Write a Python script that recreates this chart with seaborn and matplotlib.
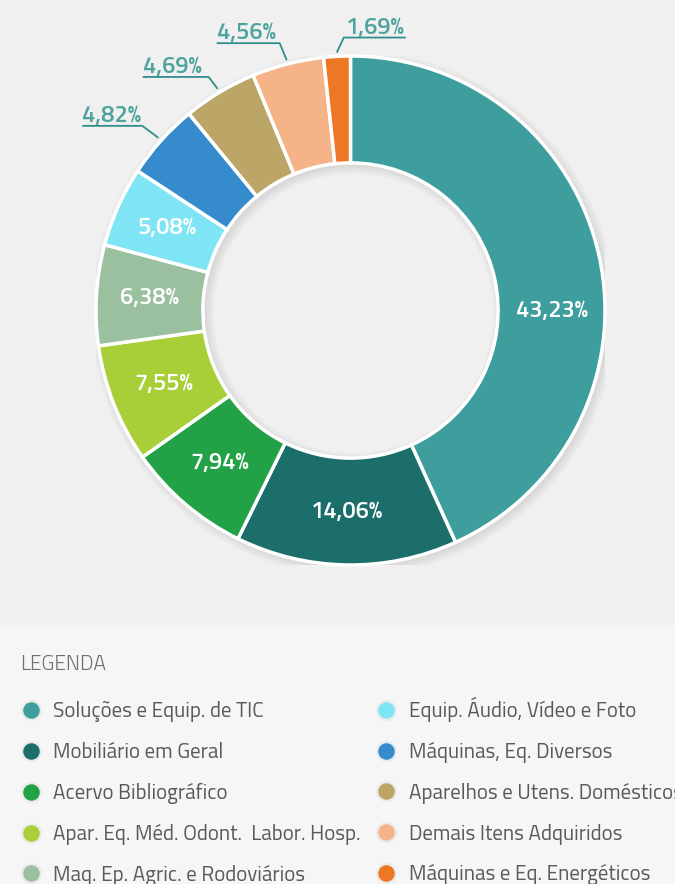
import matplotlib
matplotlib.use('Agg')
import matplotlib.pyplot as plt
import seaborn as sns
import numpy as np
from matplotlib.patches import Rectangle, Wedge
from matplotlib.lines import Line2D

categories = [
    "Soluções e Equip. de TIC",
    "Mobiliário em Geral",
    "Acervo Bibliográfico",
    "Apar. Eq. Méd. Odont.  Labor. Hosp.",
    "Maq. Ep. Agric. e Rodoviários",
    "Equip. Áudio, Vídeo e Foto",
    "Máquinas, Eq. Diversos",
    "Aparelhos e Utens. Domésticos",
    "Demais Itens Adquiridos",
    "Máquinas e Eq. Energéticos",
]
values = [43.23, 14.06, 7.94, 7.55, 6.38, 5.08, 4.82, 4.69, 4.56, 1.69]
value_labels = ["43,23%", "14,06%", "7,94%", "7,55%", "6,38%", "5,08%",
                "4,82%", "4,69%", "4,56%", "1,69%"]
colors = ["#3d9e9d", "#1c6e6a", "#22a146", "#a8cf38", "#9ac09f",
          "#7fe5f5", "#358bcc", "#bba668", "#f5b488", "#ee7725"]

sns.set_theme(style="white")
FONT = ['Titillium Web', 'DejaVu Sans']
plt.rcParams['font.family'] = FONT
palette = sns.color_palette(colors)

W, H = 675, 884
fig = plt.figure(figsize=(W / 100, H / 100), dpi=100, facecolor="#f0f0f0")
fig.patches.append(Rectangle((0, 0), 1, 1 - 625 / H, transform=fig.transFigure,
                             facecolor="#f6f6f6", edgecolor="none", zorder=0))

cx, cy, R = 350.5, 310.5, 254.5
ax = fig.add_axes([(cx - R) / W, 1 - (cy + R) / H, 2 * R / W, 2 * R / H])
ax.set_facecolor("none")
ring_w = 0.42
px = 1 / R

# soft shadow behind the ring
for k in range(8):
    ax.add_patch(Wedge((3 * px, -3 * px), 1 + k * 1.2 * px, 0, 360,
                       width=ring_w + 2 * k * 1.2 * px,
                       facecolor="black", alpha=0.011, edgecolor="none", zorder=0))

wedges, _ = ax.pie(values, colors=palette, startangle=90, counterclock=False,
                   wedgeprops=dict(width=ring_w, edgecolor="white", linewidth=2.5))
ax.set_xlim(-1, 1)
ax.set_ylim(-1, 1)
ax.axis("off")

# inner labels
angle_override = {0: 0.0, 4: 176.5}
r_lab = 1 - ring_w / 2
for i in range(6):
    w = wedges[i]
    ang = angle_override.get(i, (w.theta1 + w.theta2) / 2)
    a = np.deg2rad(ang)
    ax.text(r_lab * np.cos(a), r_lab * np.sin(a), value_labels[i], color="white",
            fontsize=17, fontweight=600, ha="center", va="center")

# outer labels with leader lines (offsets in px)
outer = {6: (-16, 12, -60), 7: (-9, 12, -66), 8: (-7, 17, -63), 9: (7, 15, 62)}
lc = "#2f8e8b"
tc = "#4fa39f"
for i, (dx, dy, ul) in outer.items():
    w = wedges[i]
    a = np.deg2rad((w.theta1 + w.theta2) / 2)
    x0, y0 = 1.015 * np.cos(a), 1.015 * np.sin(a)
    x1, y1 = x0 + dx * px, y0 + dy * px
    x2 = x1 + ul * px
    ax.plot([x0, x1, x2], [y0, y1, y1], color=lc, lw=1.3, clip_on=False,
            solid_capstyle="butt")
    xt = min(x1, x2) + (2 * px if ul > 0 else 0)
    ax.text(xt, y1 + 4 * px, value_labels[i], color=tc, fontsize=17,
            fontweight=600, ha="left", va="baseline", clip_on=False)

# legend
fig.text(20 / W, 1 - 664 / H, "LEGENDA", color="#707070", fontsize=15,
         fontweight=300, ha="left", va="center")
handles = [Line2D([], [], marker="o", linestyle="", markersize=13.5,
                  markerfacecolor=c, markeredgecolor="#ebebeb", markeredgewidth=1.6)
           for c in colors]
common = dict(loc="upper left", frameon=False, fontsize=15, labelspacing=0.95,
              handlelength=1.0, handletextpad=0.58, borderpad=0, borderaxespad=0,
              labelcolor="#5a5a5a")
leg1 = fig.legend(handles[:5], categories[:5], bbox_to_anchor=(20.1 / W, 1 - 701.5 / H), **common)
leg2 = fig.legend(handles[5:], categories[5:], bbox_to_anchor=(375.6 / W, 1 - 697 / H), **common)

fig.savefig("out.png", dpi=100, facecolor=fig.get_facecolor())
